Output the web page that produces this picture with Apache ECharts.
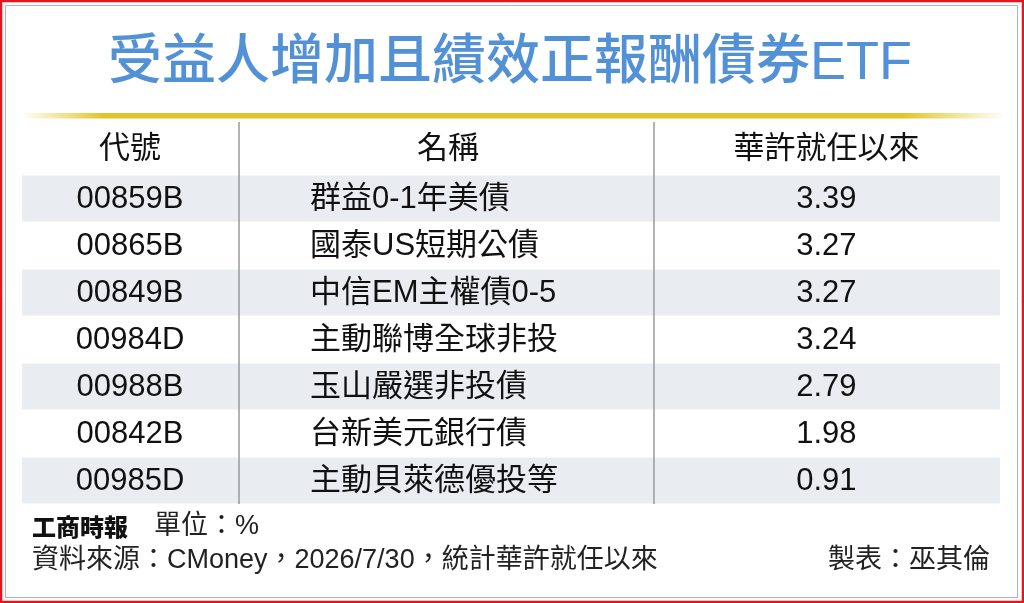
<!DOCTYPE html>
<html>
<head>
<meta charset="utf-8">
<script src="https://cdn.jsdelivr.net/npm/echarts@6/dist/echarts.min.js"></script>
<style>
html,body{margin:0;padding:0;background:#fff;}
#chart{width:1024px;height:603px;}
</style>
</head>
<body>
<div id="chart"></div>
<script>
// ---- data ----
const titleText = '受益人增加且績效正報酬債券ETF';
const headers = ['代號', '名稱', '華許就任以來'];
const codes = ['00859B', '00865B', '00849B', '00984D', '00988B', '00842B', '00985D'];
const names = ['群益0-1年美債', '國泰US短期公債', '中信EM主權債0-5', '主動聯博全球非投', '玉山嚴選非投債', '台新美元銀行債', '主動貝萊德優投等'];
const returns = [3.39, 3.27, 3.27, 3.24, 2.79, 1.98, 0.91];
const unitText = '單位：%';
const sourceText = '資料來源：CMoney，2026/7/30，統計華許就任以來';
const makerText = '製表：巫其倫';
const logoText = '工商時報';

// ---- layout (fractions of table width) ----
const FONT = "'Liberation Sans', 'Noto Sans CJK TC', sans-serif";
const GRID_LEFT = 22, GRID_RIGHT = 1000, GRID_TOP = 175, GRID_BOTTOM = 504;
const COL1_C = 0.1104, COL2_L = 0.2945, COL3_C = 0.8225;
const SEP1 = 0.2219, SEP2 = 0.6462;
const W = GRID_RIGHT - GRID_LEFT;

const chart = echarts.init(document.getElementById('chart'), null, {renderer: 'canvas'});

const option = {
  backgroundColor: '#ffffff',
  animation: false,
  grid: {left: GRID_LEFT, right: 1024 - GRID_RIGHT, top: GRID_TOP, bottom: 603 - GRID_BOTTOM},
  xAxis: {type: 'value', min: 0, max: 1, show: false},
  yAxis: {type: 'category', data: codes, inverse: true, show: false},
  series: [{
    type: 'custom',
    data: codes.map((c, i) => [0, i]),
    renderItem: function (params, api) {
      const i = api.value(1);
      const cs = params.coordSys;
      const yc = api.coord([0, i])[1];
      const h = api.size([0, 1])[1];
      const children = [];
      if (i % 2 === 0) {
        children.push({type: 'rect', shape: {x: cs.x, y: yc - h / 2 + 0.5, width: cs.width, height: h - 1}, style: {fill: '#e9edf2'}});
      }
      const ts = {fontSize: 31, fontFamily: FONT, fill: '#111', textVerticalAlign: 'middle'};
      children.push({type: 'text', style: Object.assign({}, ts, {text: codes[i], x: api.coord([COL1_C, i])[0], y: yc + 1, textAlign: 'center'})});
      children.push({type: 'text', style: Object.assign({}, ts, {text: names[i], x: api.coord([COL2_L, i])[0], y: yc + 1, textAlign: 'left'})});
      children.push({type: 'text', style: Object.assign({}, ts, {text: returns[i].toFixed(2), x: api.coord([COL3_C, i])[0], y: yc + 1, textAlign: 'center'})});
      return {type: 'group', children: children};
    }
  }],
  graphic: [
    // outer red frame
    {type: 'rect', z: 200, shape: {x: 1, y: 1, width: 1022, height: 601}, style: {fill: 'none', stroke: '#e8141c', lineWidth: 2.5}},
    // inner grey frame
    {type: 'rect', z: 200, shape: {x: 5.5, y: 5.5, width: 1012, height: 592}, style: {fill: 'none', stroke: '#a9b3c4', lineWidth: 1}},
    // title
    {type: 'text', z: 100, style: {text: titleText, x: 510, y: 64, textAlign: 'center', textVerticalAlign: 'middle', fontSize: 54, fontWeight: 500, fontFamily: FONT, fill: '#5291d6'}},
    // gold rule
    {type: 'rect', z: 100, shape: {x: 24, y: 113, width: 978, height: 5.5},
      style: {fill: new echarts.graphic.LinearGradient(0, 0, 1, 0, [
        {offset: 0, color: 'rgba(230,205,60,0.05)'},
        {offset: 0.08, color: '#e2c52a'},
        {offset: 0.9, color: '#e2c52a'},
        {offset: 1, color: 'rgba(230,205,60,0.05)'}
      ])}},
    // column separators
    {type: 'line', z: 100, shape: {x1: GRID_LEFT + SEP1 * W, y1: 122, x2: GRID_LEFT + SEP1 * W, y2: GRID_BOTTOM}, style: {stroke: '#9a9a9a', lineWidth: 1.5}},
    {type: 'line', z: 100, shape: {x1: GRID_LEFT + SEP2 * W, y1: 122, x2: GRID_LEFT + SEP2 * W, y2: GRID_BOTTOM}, style: {stroke: '#9a9a9a', lineWidth: 1.5}},
    // headers
    {type: 'text', z: 100, style: {text: headers[0], x: GRID_LEFT + COL1_C * W, y: 149, textAlign: 'center', textVerticalAlign: 'middle', fontSize: 31, fontFamily: FONT, fill: '#111'}},
    {type: 'text', z: 100, style: {text: headers[1], x: 448, y: 149, textAlign: 'center', textVerticalAlign: 'middle', fontSize: 31, fontFamily: FONT, fill: '#111'}},
    {type: 'text', z: 100, style: {text: headers[2], x: GRID_LEFT + COL3_C * W, y: 149, textAlign: 'center', textVerticalAlign: 'middle', fontSize: 31, fontFamily: FONT, fill: '#111'}},
    // footer
    {type: 'text', z: 100, style: {text: logoText, x: 32, y: 527, textAlign: 'left', textVerticalAlign: 'middle', fontSize: 24, fontWeight: 900, fontFamily: "'Noto Sans CJK TC', sans-serif", fill: '#111'}},
    {type: 'text', z: 100, style: {text: unitText, x: 154, y: 527, textAlign: 'left', textVerticalAlign: 'middle', fontSize: 27, fontFamily: FONT, fill: '#222'}},
    {type: 'text', z: 100, style: {text: sourceText, x: 32, y: 561, textAlign: 'left', textVerticalAlign: 'middle', fontSize: 27, fontFamily: FONT, fill: '#222'}},
    {type: 'text', z: 100, style: {text: makerText, x: 990, y: 561, textAlign: 'right', textVerticalAlign: 'middle', fontSize: 27, fontFamily: FONT, fill: '#222'}}
  ]
};
chart.setOption(option);
</script>
</body>
</html>
